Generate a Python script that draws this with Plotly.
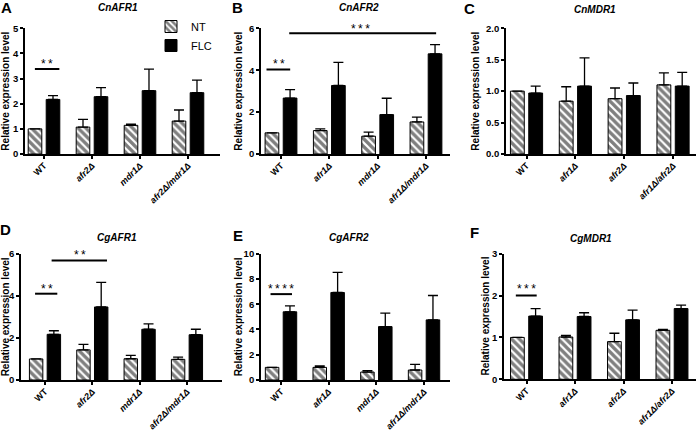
import plotly.graph_objects as go

# ---------------- data ----------------
groups_A = ["WT", "afr2Δ", "mdr1Δ", "afr2Δ/mdr1Δ"]
groups_B = ["WT", "afr1Δ", "mdr1Δ", "afr1Δ/mdr1Δ"]
groups_C = ["WT", "afr1Δ", "afr2Δ", "afr1Δ/afr2Δ"]

titles = ["CnAFR1", "CnAFR2", "CnMDR1", "CgAFR1", "CgAFR2", "CgMDR1"]
letters = ["A", "B", "C", "D", "E", "F"]
y_title = "Relative expression level"

A_nt = [1.00, 1.07, 1.14, 1.31]
A_nt_err = [0.0, 0.31, 0.05, 0.44]
A_flc = [2.17, 2.28, 2.52, 2.44]
A_flc_err = [0.15, 0.36, 0.86, 0.50]

B_nt = [1.01, 1.12, 0.85, 1.53]
B_nt_err = [0.0, 0.08, 0.19, 0.23]
B_flc = [2.67, 3.27, 1.88, 4.78]
B_flc_err = [0.40, 1.10, 0.78, 0.44]

C_nt = [1.00, 0.84, 0.88, 1.10]
C_nt_err = [0.0, 0.23, 0.17, 0.19]
C_flc = [0.97, 1.08, 0.93, 1.08]
C_flc_err = [0.11, 0.45, 0.20, 0.22]

D_nt = [1.00, 1.43, 1.01, 0.98]
D_nt_err = [0.0, 0.26, 0.16, 0.11]
D_flc = [2.17, 3.47, 2.41, 2.15]
D_flc_err = [0.17, 1.17, 0.26, 0.26]

E_nt = [1.00, 1.00, 0.63, 0.79]
E_nt_err = [0.0, 0.11, 0.11, 0.45]
E_flc = [5.40, 6.93, 4.23, 4.76]
E_flc_err = [0.47, 1.59, 1.06, 1.93]

F_nt = [1.00, 1.01, 0.90, 1.17]
F_nt_err = [0.0, 0.04, 0.20, 0.02]
F_flc = [1.51, 1.50, 1.42, 1.69]
F_flc_err = [0.18, 0.09, 0.23, 0.08]

y_max = [5, 6, 2, 6, 10, 3]
y_dtick = [1, 2, 0.5, 2, 2, 1]

# significance brackets: (panel index, x0, x1, y, label x, label y, label)
sig_lines = [
    (0, -0.19, 0.32, 3.38, 0.06, 3.67, "**"),
    (1, -0.30, 0.19, 4.03, -0.05, 4.38, "**"),
    (1, 0.17, 3.21, 5.76, 1.65, 6.08, "***"),
    (3, -0.21, 0.26, 4.10, 0.04, 4.41, "**"),
    (3, 0.14, 1.31, 5.68, 0.73, 6.01, "**"),
    (4, -0.22, 0.23, 6.80, 0.00, 7.38, "****"),
    (5, -0.22, 0.21, 2.00, 0.00, 2.20, "***"),
]

# ---------------- layout geometry ----------------
W, H = 696, 432
# pixel boxes: (x_left, x_right, y_top, y_bottom)
boxes = [
    (25, 220, 28.3, 154),
    (261, 450, 28.3, 154),
    (506, 696, 28.3, 154),
    (21, 222, 253.7, 380),
    (261, 450, 253.7, 380),
    (504, 696, 253.7, 379.3),
]
x_ranges = [(-0.396, 3.667), (-0.414, 3.497), (-0.42, 3.47),
            (-0.507, 3.74), (-0.42, 3.545), (-0.464, 3.495)]
title_pos = [(118, 8), (359, 8), (595, 10), (117, 237), (349, 237), (591, 239)]
letter_pos = [(6, 8), (237, 8), (469, 8.5), (5, 229.5), (238, 235.5), (474, 232.5)]
ytitle_x = [5.5, 238.5, 475.5, 5.5, 238.5, 485]

panels = [
    (groups_A, A_nt, A_nt_err, A_flc, A_flc_err),
    (groups_B, B_nt, B_nt_err, B_flc, B_flc_err),
    (groups_C, C_nt, C_nt_err, C_flc, C_flc_err),
    (groups_A, D_nt, D_nt_err, D_flc, D_flc_err),
    (groups_B, E_nt, E_nt_err, E_flc, E_flc_err),
    (groups_C, F_nt, F_nt_err, F_flc, F_flc_err),
]

FONT = "Arial, Liberation Sans, sans-serif"


def fmt_label(g):
    if g == "WT":
        return "WT"
    return "<i>" + g + "</i>"


fig = go.Figure()
layout = dict(
    width=W, height=H,
    margin=dict(l=0, r=0, t=0, b=0, pad=0, autoexpand=False),
    paper_bgcolor="white", plot_bgcolor="white",
    barmode="group", bargap=0.25, bargroupgap=0.244,
    font=dict(family=FONT, color="black"),
    showlegend=True,
    legend=dict(x=151 / W, y=1 - 12 / H, xanchor="left", yanchor="top",
                font=dict(size=11, family=FONT), bgcolor="rgba(0,0,0,0)",
                tracegroupgap=0, itemclick=False),
)
shapes = []
annotations = []

for i, (groups, nt, nt_err, flc, flc_err) in enumerate(panels):
    n = i + 1
    xa = "x" if n == 1 else f"x{n}"
    ya = "y" if n == 1 else f"y{n}"
    xl, xr, yt, yb = boxes[i]
    fig.add_trace(go.Bar(
        x=groups, y=nt, name="NT", xaxis=xa, yaxis=ya,
        showlegend=(i == 0), legendgroup="NT",
        marker=dict(color="white", line=dict(color="black", width=1),
                    pattern=dict(shape="\\", size=5.5, solidity=0.6,
                                 fgcolor="black", bgcolor="white")),
        error_y=dict(type="data", symmetric=False, array=nt_err,
                     arrayminus=[0] * len(nt_err), color="black",
                     thickness=1.3, width=5),
        hoverinfo="skip",
    ))
    fig.add_trace(go.Bar(
        x=groups, y=flc, name="FLC", xaxis=xa, yaxis=ya,
        showlegend=(i == 0), legendgroup="FLC",
        marker=dict(color="black", line=dict(color="black", width=1)),
        error_y=dict(type="data", symmetric=False, array=flc_err,
                     arrayminus=[0] * len(flc_err), color="black",
                     thickness=1.3, width=5),
        hoverinfo="skip",
    ))
    xkey = "xaxis" if n == 1 else f"xaxis{n}"
    ykey = "yaxis" if n == 1 else f"yaxis{n}"
    layout[xkey] = dict(
        domain=[xl / W, xr / W], anchor=ya, range=list(x_ranges[i]),
        type="category", categoryorder="array", categoryarray=groups,
        tickmode="array", tickvals=groups, ticktext=[fmt_label(g) for g in groups],
        tickangle=-45, ticks="outside", ticklen=3, tickwidth=1.5, tickcolor="black",
        tickfont=dict(size=9, family=FONT, weight="bold"),
        ticklabelstandoff=-2,
        showline=True, linecolor="black", linewidth=1.8,
        showgrid=False, zeroline=False, fixedrange=True, automargin=False,
    )
    layout[ykey] = dict(
        domain=[1 - yb / H, 1 - yt / H], anchor=xa, range=[0, y_max[i]],
        dtick=y_dtick[i], tick0=0,
        tickformat=".1f" if y_dtick[i] < 1 else "d",
        ticks="outside", ticklen=3, tickwidth=1.5, tickcolor="black",
        tickfont=dict(size=9.5, family=FONT, weight="bold"),
        showline=True, linecolor="black", linewidth=1.8,
        showgrid=False, zeroline=False, fixedrange=True, automargin=False,
    )
    # y-axis title placed precisely beside the axis
    annotations.append(dict(
        x=ytitle_x[i] / W, y=1 - (yt + yb) / 2 / H, xref="paper", yref="paper",
        text="<b>" + y_title + "</b>", textangle=-90, showarrow=False,
        font=dict(size=10, family=FONT), xanchor="center", yanchor="middle",
    ))
    tx, ty = title_pos[i]
    annotations.append(dict(
        x=tx / W, y=1 - ty / H, xref="paper", yref="paper",
        text="<b><i>" + titles[i] + "</i></b>", showarrow=False,
        font=dict(size=10, family=FONT), xanchor="center", yanchor="middle",
    ))
    lx, ly = letter_pos[i]
    annotations.append(dict(
        x=lx / W, y=1 - ly / H, xref="paper", yref="paper",
        text="<b>" + letters[i] + "</b>", showarrow=False,
        font=dict(size=15, family=FONT), xanchor="center", yanchor="middle",
    ))

for (p, x0, x1, yv, lxv, lyv, lab) in sig_lines:
    n = p + 1
    xr_ = "x" if n == 1 else f"x{n}"
    yr_ = "y" if n == 1 else f"y{n}"
    shapes.append(dict(type="line", xref=xr_, yref=yr_, x0=x0, x1=x1, y0=yv, y1=yv,
                       line=dict(color="black", width=2)))
    px_per_unit = (boxes[p][3] - boxes[p][2]) / y_max[p]
    ya_val = min(lyv, y_max[p])
    extra = (lyv - ya_val) * px_per_unit
    annotations.append(dict(x=lxv, y=ya_val, xref=xr_, yref=yr_,
                            text="\u2009".join(lab), showarrow=False,
                            font=dict(size=12, family=FONT), xanchor="center",
                            yanchor="middle", yshift=-2 + extra))

layout["shapes"] = shapes
layout["annotations"] = annotations
fig.update_layout(**layout)
fig.write_html("out.html",
               config={"displayModeBar": False},
               post_script="document.body.style.margin='0';"
                           "document.body.style.overflow='hidden';")
